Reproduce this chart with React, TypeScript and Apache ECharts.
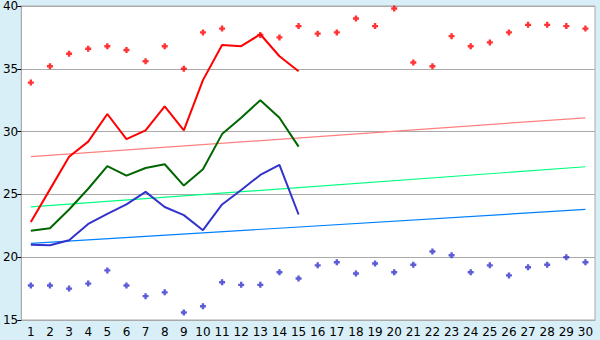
import React, { useEffect, useRef } from "react";
import * as echarts from "echarts";

const categories = Array.from({ length: 30 }, (_, i) => String(i + 1));

const maxPoints = [33.9, 35.2, 36.2, 36.6, 36.8, 36.5, 35.6, 36.8, 35.0, 37.9, 38.2, null, 37.7, 37.5, 38.4, 37.8, 37.9, 39.0, 38.4, 39.8, 35.5, 35.2, 37.6, 36.8, 37.1, 37.9, 38.5, 38.5, 38.4, 38.2];
const minPoints = [17.75, 17.75, 17.5, 17.9, 18.95, 17.75, 16.9, 17.2, 15.6, 16.1, 18.0, 17.8, 17.8, 18.8, 18.3, 19.35, 19.6, 18.7, 19.5, 18.8, 19.4, 20.45, 20.15, 18.8, 19.35, 18.55, 19.2, 19.4, 20.0, 19.6];

const upperLine = [22.8, 25.4, 28.0, 29.2, 31.4, 29.4, 30.1, 32.0, 30.1, 34.1, 36.9, 36.8, 37.75, 36.0, 34.8];
const meanLine = [22.1, 22.3, 23.8, 25.45, 27.25, 26.5, 27.1, 27.4, 25.7, 27.0, 29.8, 31.1, 32.5, 31.1, 28.8];
const lowerLine = [21.0, 20.95, 21.35, 22.65, 23.45, 24.2, 25.2, 24.0, 23.35, 22.15, 24.2, 25.35, 26.55, 27.35, 23.4];

const trendUpper = [28.0, 31.1];
const trendMean = [24.0, 27.2];
const trendLower = [21.1, 23.8];

const trendData = (ends: number[]) => [
  [categories[0], ends[0]],
  [categories[categories.length - 1], ends[1]],
];

const markerPath = "path://M1.5,0H3.5V1.5H5V3.5H3.5V5H1.5V3.5H0V1.5H1.5Z";

export default function App() {
  const ref = useRef<HTMLDivElement>(null);
  useEffect(() => {
    document.body.style.margin = "0";
    const chart = echarts.init(ref.current!, undefined, { renderer: "svg" });
    const font = "DejaVu Sans";
    const lineSeries = (data: number[], color: string) => ({
      type: "line",
      data,
      showSymbol: false,
      symbol: "none",
      lineStyle: { color, width: 2 },
      z: 3,
    });
    const trendSeries = (ends: number[], color: string) => ({
      type: "line",
      data: trendData(ends),
      showSymbol: false,
      symbol: "none",
      lineStyle: { color, width: 1.2 },
      z: 2,
    });
    const scatterSeries = (data: (number | null)[], color: string) => ({
      type: "scatter",
      data,
      symbol: markerPath,
      symbolSize: 6,
      itemStyle: { color },
      z: 4,
    });
    chart.setOption({
      animation: false,
      backgroundColor: "#d8eff7",
      grid: {
        left: 20,
        right: 5,
        top: 5,
        bottom: 20,
        show: true,
        backgroundColor: "#ffffff",
        borderColor: "#aaaaaa",
        borderWidth: 1,
      },
      xAxis: {
        type: "category",
        data: categories,
        boundaryGap: true,
        axisLine: { lineStyle: { color: "#aaaaaa", width: 1 } },
        axisTick: { alignWithLabel: true, length: 5, lineStyle: { color: "#000000" } },
        axisLabel: { color: "#000000", fontSize: 12, fontFamily: font, margin: 6, interval: 0 },
        splitLine: { show: false },
      },
      yAxis: {
        type: "value",
        min: 15,
        max: 40,
        interval: 5,
        axisLine: { show: true, lineStyle: { color: "#aaaaaa", width: 1 } },
        axisTick: { show: true, length: 4, lineStyle: { color: "#000000" } },
        axisLabel: { color: "#000000", fontSize: 12, fontFamily: font, margin: 3 },
        splitLine: { show: true, lineStyle: { color: "#aaaaaa", width: 1 } },
      },
      series: [
        trendSeries(trendUpper, "#ff8080"),
        trendSeries(trendMean, "#00ff80"),
        trendSeries(trendLower, "#0080ff"),
        lineSeries(upperLine, "#ff0000"),
        lineSeries(meanLine, "#006600"),
        lineSeries(lowerLine, "#3333cc"),
        scatterSeries(maxPoints, "#ff0000"),
        scatterSeries(minPoints, "#3333cc"),
      ],
    });
    return () => chart.dispose();
  }, []);
  return <div ref={ref} style={{ width: 600, height: 340 }} />;
}
